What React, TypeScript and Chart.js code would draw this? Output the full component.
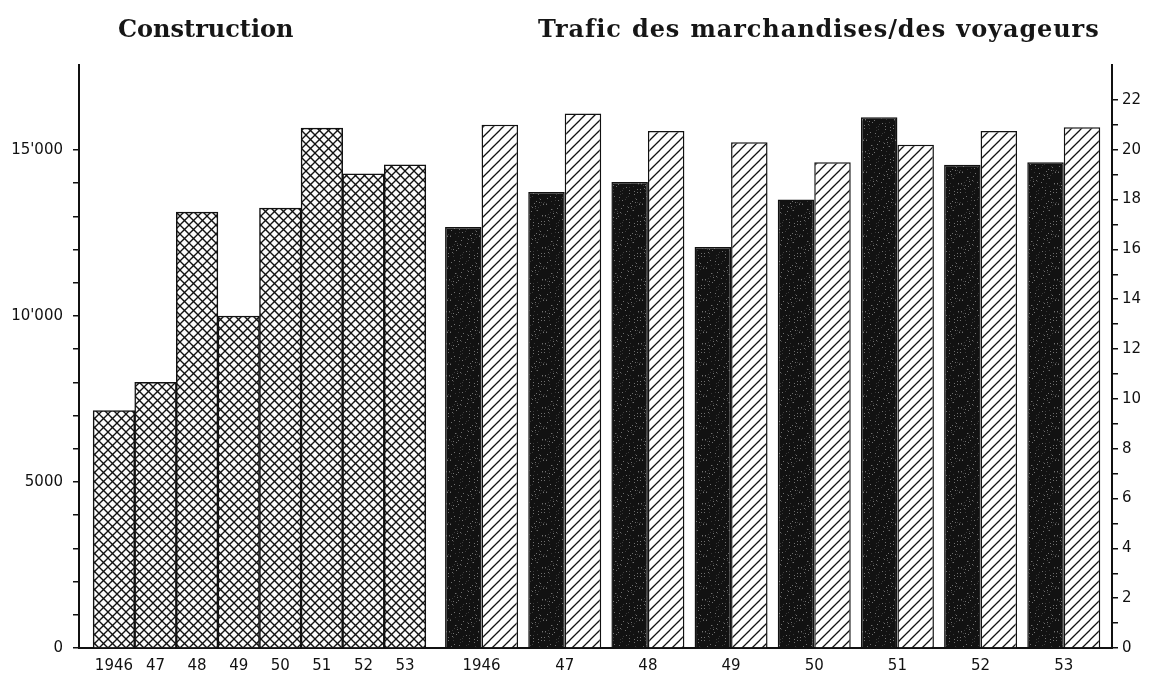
import React, { useEffect, useRef } from 'react';
import { Chart, registerables } from 'chart.js';

Chart.register(...registerables);

// ---- data ----
const years = ['1946', '47', '48', '49', '50', '51', '52', '53'];
const construction = [7150, 8000, 13130, 10000, 13250, 15660, 14280, 14550];
const marchandises = [16.9, 18.3, 18.7, 16.1, 18.0, 21.3, 19.4, 19.5];
const voyageurs = [21.0, 21.45, 20.75, 20.3, 19.5, 20.2, 20.75, 20.9];
const leftTickLabels: Record<number, string> = { 0: '0', 5000: '5000', 10000: "10'000", 15000: "15'000" };
const leftTickTop = 15000;
const rightTickTop = 22;
const titleLeft = 'Construction';
const titleRight = 'Trafic des marchandises/des voyageurs';

// ---- layout constants (axis geometry, in bar-width units) ----
const X_MIN = -0.84;
const X_MAX = 24.0;
const PAIR_START = 8.84;
const PAIR_STEP = 2;

function makeCrossHatch(): CanvasPattern | string {
  const c = document.createElement('canvas');
  const s = 9;
  c.width = s; c.height = s;
  const g = c.getContext('2d');
  if (!g) return '#ccc';
  g.fillStyle = '#fbfbfb';
  g.fillRect(0, 0, s, s);
  g.strokeStyle = '#111';
  g.lineWidth = 1.35;
  for (const k of [-1, 0, 1]) {
    g.beginPath(); g.moveTo(-2, -2 + k * s); g.lineTo(s + 2, s + 2 + k * s); g.stroke();
    g.beginPath(); g.moveTo(-2, s + 2 + k * s); g.lineTo(s + 2, -2 + k * s); g.stroke();
  }
  return g.createPattern(c, 'repeat') || '#ccc';
}

function makeHatch(): CanvasPattern | string {
  const c = document.createElement('canvas');
  const s = 10;
  c.width = s; c.height = s;
  const g = c.getContext('2d');
  if (!g) return '#eee';
  g.fillStyle = '#fdfdfd';
  g.fillRect(0, 0, s, s);
  g.strokeStyle = '#111';
  g.lineWidth = 1.25;
  for (const k of [-1, 0, 1]) {
    g.beginPath(); g.moveTo(-2, s + 2 + k * s); g.lineTo(s + 2, -2 + k * s); g.stroke();
  }
  return g.createPattern(c, 'repeat') || '#eee';
}

function makeSpeckle(): CanvasPattern | string {
  const c = document.createElement('canvas');
  const s = 32;
  c.width = s; c.height = s;
  const g = c.getContext('2d');
  if (!g) return '#151515';
  g.fillStyle = '#121212';
  g.fillRect(0, 0, s, s);
  for (let i = 0; i < s; i++) {
    for (let j = 0; j < s; j++) {
      const h = (i * 37 + j * 91 + i * j * 7) % 29;
      if (h === 0) { g.fillStyle = '#707070'; g.fillRect(i, j, 1, 1); }
      else if (h === 11) { g.fillStyle = '#3a3a3a'; g.fillRect(i, j, 1, 1); }
    }
  }
  return g.createPattern(c, 'repeat') || '#151515';
}

export default function App() {
  const ref = useRef<HTMLCanvasElement | null>(null);

  useEffect(() => {
    document.body.style.margin = '0';
    const canvas = ref.current;
    if (!canvas) return;

    const xTickValues = [
      ...years.map((_, i) => i),
      ...years.map((_, i) => PAIR_START + PAIR_STEP * i),
    ];
    const xTickLabels = [...years, ...years];

    const leftTicks: number[] = [];
    for (let v = 0; v <= leftTickTop; v += 1000) leftTicks.push(v);
    const rightTicks: number[] = [];
    for (let v = 0; v <= rightTickTop; v += 1) rightTicks.push(v);

    const tickFont = { family: "'DejaVu Sans', sans-serif", size: 15 };

    const chart = new Chart(canvas, {
      type: 'bar',
      data: {
        datasets: [
          {
            label: titleLeft,
            data: construction.map((v, i) => ({ x: i, y: v })),
            yAxisID: 'yL',
            grouped: false,
            barPercentage: 1,
            categoryPercentage: 1,
            backgroundColor: makeCrossHatch(),
            borderColor: '#111',
            borderWidth: 1.5,
          } as any,
          {
            label: 'Marchandises',
            data: marchandises.map((v, i) => ({ x: PAIR_START + PAIR_STEP * i, y: v })),
            yAxisID: 'yR',
            stack: 'm',
            barPercentage: 1,
            categoryPercentage: 1.755,
            backgroundColor: makeSpeckle(),
            borderColor: '#111',
            borderWidth: 1.5,
          } as any,
          {
            label: 'Voyageurs',
            data: voyageurs.map((v, i) => ({ x: PAIR_START + PAIR_STEP * i, y: v })),
            yAxisID: 'yR',
            stack: 'v',
            barPercentage: 1,
            categoryPercentage: 1.755,
            backgroundColor: makeHatch(),
            borderColor: '#111',
            borderWidth: 1.5,
          } as any,
        ],
      },
      options: {
        animation: false,
        responsive: true,
        maintainAspectRatio: false,
        layout: { padding: { top: 65, left: 0, right: 0, bottom: 0 } },
        plugins: {
          legend: { display: false },
          tooltip: { enabled: false },
          title: { display: false },
        },
        scales: {
          x: {
            type: 'linear',
            min: X_MIN,
            max: X_MAX,
            offset: false,
            bounds: 'data',
            grace: 0,
            grid: { display: false, drawTicks: false, offset: false },
            border: { display: true, color: '#111', width: 2 },
            ticks: {
              autoSkip: false,
              maxRotation: 0,
              minRotation: 0,
              padding: 9,
              color: '#111',
              font: tickFont,
              callback: (_v: any, i: number) => xTickLabels[i],
            },
            afterBuildTicks: (ax: any) => {
              ax.ticks = xTickValues.map((value) => ({ value }));
            },
            afterFit: (ax: any) => { ax.height = 27; },
          },
          yL: {
            type: 'linear',
            position: 'left',
            min: 0,
            max: 17560,
            grid: { display: true, drawOnChartArea: false, drawTicks: true, tickLength: 6, color: '#111', lineWidth: 1.5 },
            border: { display: true, color: '#111', width: 2 },
            ticks: {
              padding: 10,
              color: '#111',
              font: tickFont,
              autoSkip: false,
              callback: (v: any) => (leftTickLabels[v as number] ?? ''),
            },
            afterBuildTicks: (ax: any) => {
              ax.ticks = leftTicks.map((value) => ({ value }));
            },
            afterFit: (ax: any) => { ax.width = 79; },
          },
          yR: {
            type: 'linear',
            position: 'right',
            min: 0,
            max: 23.4,
            grid: { display: true, drawOnChartArea: false, drawTicks: true, tickLength: 6, color: '#111', lineWidth: 1.5 },
            border: { display: true, color: '#111', width: 2 },
            ticks: {
              padding: 4,
              color: '#111',
              font: tickFont,
              autoSkip: false,
              callback: (v: any) => ((v as number) % 2 === 0 ? String(v) : ''),
            },
            afterBuildTicks: (ax: any) => {
              ax.ticks = rightTicks.map((value) => ({ value }));
            },
            afterFit: (ax: any) => { ax.width = 41; },
          },
        },
      } as any,
    });

    return () => chart.destroy();
  }, []);

  const titleStyle: React.CSSProperties = {
    position: 'absolute',
    top: 17,
    fontFamily: "'DejaVu Serif', serif",
    fontWeight: 'bold',
    fontSize: 24,
    lineHeight: 1,
    color: '#161616',
    whiteSpace: 'nowrap',
  };

  return (
    <div style={{ position: 'relative', width: 1153, height: 675, background: '#ffffff' }}>
      <canvas ref={ref} />
      <div style={{ ...titleStyle, left: 118 }}>{titleLeft}</div>
      <div style={{ ...titleStyle, left: 538, letterSpacing: '0.9px', wordSpacing: '1px' }}>{titleRight}</div>
    </div>
  );
}
